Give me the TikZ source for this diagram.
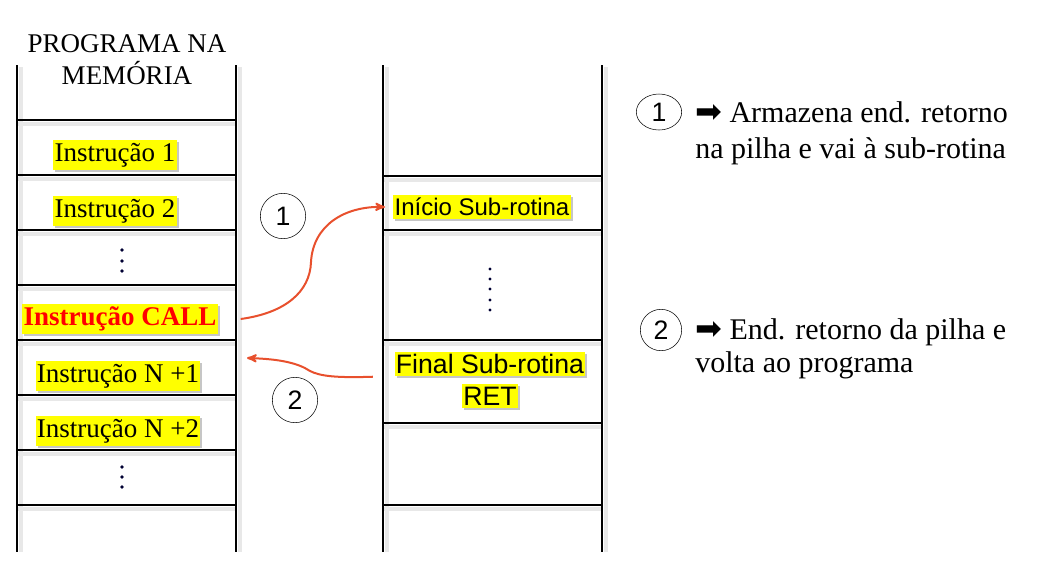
\documentclass[tikz,border=0pt]{standalone}
\usepackage{fontspec}
\setmainfont{Liberation Serif}
\setsansfont{Liberation Sans}
\newfontfamily\symfont{DejaVu Sans}
\usetikzlibrary{arrows,shadows,shapes.geometric}
\definecolor{callred}{RGB}{232,80,45}
\definecolor{hilite}{RGB}{255,255,0}
\tikzset{
  memline/.style = {line width=0.9pt, black},
  memshade/.style = {line width=3pt, black!9},% soft shadow of a line
  instr/.style = {fill=hilite, inner xsep=1pt, inner ysep=2pt,
    font=\fontsize{20.25}{24}\selectfont,
    drop shadow={opacity=0.45, shadow xshift=1.5pt, shadow yshift=-1.5pt}},% yellow label
  subr/.style = {instr, font=\sffamily\fontsize{20}{24}\selectfont},
  num/.style = {circle, draw=black, thin, minimum size=34pt, inner sep=0pt,
    font=\sffamily\fontsize{20}{22}\selectfont},% step number
  numel/.style = {num, ellipse, minimum width=34pt, minimum height=27pt},
  note/.style = {align=left, anchor=west, inner sep=0pt},
  jump/.style = {->, >=stealth', draw=callred, line width=1.5pt}
}

\begin{document}
\begin{tikzpicture}[x=0.75pt,y=-0.75pt]
\useasboundingbox (0,0) rectangle (1046,562);
% shadows of the columns
\foreach \x in {17,236,383,602}
  \draw[memshade] (\x+4,67) -- (\x+4,552);
\foreach \y in {120,175,230,285,340,395,450,505}
  \draw[memshade] (17,\y+4) -- (236,\y+4);
\foreach \y in {176,230,340,423,505}
  \draw[memshade] (383,\y+4) -- (602,\y+4);
% columns
\foreach \x in {17,236,383,602}
  \draw[memline] (\x,65) -- (\x,552);
\foreach \y in {120,175,230,285,340,395,450,505}
  \draw[memline] (17,\y) -- (236,\y);
\foreach \y in {176,230,340,423,505}
  \draw[memline] (383,\y) -- (602,\y);
% dots
\foreach \y in {250,261,271,467,477,487}
  \fill[black!80!blue] (122,\y) circle (1.9);
\foreach \y in {269,279,289,300,310}
  \fill[black!80!blue] (490,\y) circle (1.7);

\node[align=center, font=\fontsize{20.25}{24}\selectfont] (title) at (127,60) {PROGRAMA NA\\MEMÓRIA};
\node[instr] (i1) at (115,155) {Instrução 1};
\node[instr] (i2) at (115,211) {Instrução 2};
\node[instr, text=red, font=\bfseries\fontsize{20.25}{24}\selectfont] (call) at (120,319) {Instrução CALL};
\node[instr] (n1) at (118,376) {Instrução N +1};
\node[instr] (n2) at (118,431) {Instrução N +2};

\node[subr, font=\sffamily\fontsize{18}{22}\selectfont] (ini) at (482,207) {Início Sub-rotina};
\node[subr] (fin) at (490,364) {Final Sub-rotina};
\node[subr] (ret) at (490,396) {RET};

\node[num] (c1) at (283,216) {1};
\node[num] (c2) at (295,400) {2};
\node[numel] (k1) at (659,112) {1};
\node[num, minimum size=31pt] (k2) at (661,330) {2};

\node[note, font=\fontsize{22.5}{27}\selectfont] (t1) at (695,133)
  {{\symfont\fontsize{24}{24}\selectfont ➡} Armazena end. retorno\\na pilha e vai à sub-rotina};
\node[note, font=\fontsize{22.5}{24.5}\selectfont] (t2) at (695,349)
  {{\symfont\fontsize{24}{24}\selectfont ➡} End. retorno da pilha e\\volta ao programa};

\coordinate (back) at (247,358);
\draw[jump] ([xshift=17pt]call.east) .. controls (285,313) and (310,292) .. (311,262)
  .. controls (313,225) and (345,206) .. ([xshift=-6pt]ini.west);
\draw[jump] ([xshift=-16pt]fin.south west) .. controls (335,378) and (320,376) .. (310,371)
  .. controls (298,363) and (280,359) .. (back);
\end{tikzpicture}
\end{document}
